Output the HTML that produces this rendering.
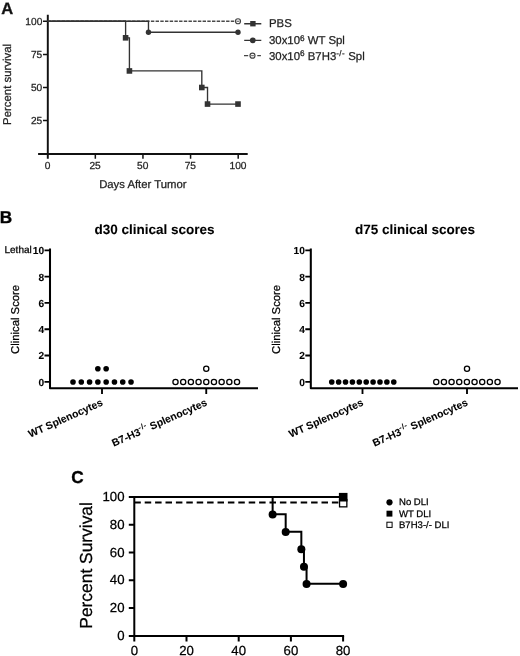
<!DOCTYPE html>
<html><head><meta charset="utf-8"><title>Figure</title>
<style>html,body{margin:0;padding:0;background:#fff}svg{display:block}text{font-family:"Liberation Sans",Arial,Helvetica,sans-serif;text-rendering:geometricPrecision;stroke-width:.25px}#panelA text{stroke:#222}#panelB text,#panelC text{stroke:#000}text[font-weight=bold]{stroke-width:.08px}text.pl{stroke-width:.35px}</style></head><body>
<svg width="520" height="656" viewBox="0 0 520 656">
<rect width="520" height="656" fill="#fff"/>
<g id="panelA">
<text class="pl" x="1.3" y="13.8" font-size="16.5" font-weight="bold" fill="#111">A</text>
<path d="M47.8 14.7V158.8M38.1 154H247.7" stroke="#111" stroke-width="1.95" fill="none"/>
<path d="M43 120.62H47.8M43 87.5H47.8M43 54.38H47.8M43 21.25H47.8M95.33 154V158.8M142.95 154V158.8M190.57 154V158.8M238.2 154V158.8" stroke="#111" stroke-width="1.5" fill="none"/>
<text x="42.3" y="124.22" font-size="10.2" text-anchor="end" fill="#222">25</text>
<text x="42.3" y="91.1" font-size="10.2" text-anchor="end" fill="#222">50</text>
<text x="42.3" y="57.98" font-size="10.2" text-anchor="end" fill="#222">75</text>
<text x="42.3" y="24.85" font-size="10.2" text-anchor="end" fill="#222">100</text>
<text x="47.5" y="169.3" font-size="10.2" text-anchor="middle" fill="#222">0</text>
<text x="95.12" y="169.3" font-size="10.2" text-anchor="middle" fill="#222">25</text>
<text x="142.75" y="169.3" font-size="10.2" text-anchor="middle" fill="#222">50</text>
<text x="190.38" y="169.3" font-size="10.2" text-anchor="middle" fill="#222">75</text>
<text x="238" y="169.3" font-size="10.2" text-anchor="middle" fill="#222">100</text>
<text x="142.8" y="187.5" font-size="11.3" text-anchor="middle" fill="#222">Days After Tumor</text>
<text transform="translate(10.9,84.4) rotate(-90)" font-size="11.4" text-anchor="middle" fill="#222">Percent survival</text>
<path d="M47.5 21.25H235.5" stroke="#4a4a4a" stroke-width="1.3" stroke-dasharray="3.4 1.3" fill="none"/>
<circle cx="238" cy="21.25" r="2.5" fill="#fff" stroke="#444" stroke-width="1.2"/>
<path d="M236.6 21.25h2.8" stroke="#444" stroke-width="0.9"/>
<path d="M47.5 21.25H148.47V32.25H238" stroke="#333" stroke-width="1.35" fill="none"/>
<circle cx="148.47" cy="32.25" r="2.7" fill="#333"/>
<circle cx="238" cy="32.25" r="2.7" fill="#333"/>
<path d="M47.5 21.25H125.61V37.81H129.42V70.94H201.81V87.5H207.52V104.06H238" stroke="#333" stroke-width="1.35" fill="none"/>
<rect x="122.81" y="35.01" width="5.6" height="5.6" fill="#333"/>
<rect x="126.62" y="68.14" width="5.6" height="5.6" fill="#333"/>
<rect x="199" y="84.7" width="5.6" height="5.6" fill="#333"/>
<rect x="204.72" y="101.26" width="5.6" height="5.6" fill="#333"/>
<rect x="235.2" y="101.26" width="5.6" height="5.6" fill="#333"/>
<path d="M244.2 23.7H261.3M244.2 40.3H261.3" stroke="#333" stroke-width="1.35"/>
<rect x="250.2" y="21" width="5.4" height="5.4" fill="#333"/>
<circle cx="252.8" cy="40.3" r="2.9" fill="#333"/>
<path d="M244 55.7H248.2M257.3 55.7H260.9" stroke="#444" stroke-width="1.3"/>
<circle cx="252.5" cy="55.7" r="2.5" fill="#fff" stroke="#444" stroke-width="1.2"/>
<path d="M251.1 55.7h2.8" stroke="#444" stroke-width="0.9"/>
<text x="269" y="26.8" font-size="11.4" fill="#222">PBS</text>
<text x="269" y="44.4" font-size="11.4" fill="#222">30x10<tspan font-size="8.2" dy="-3.8">6</tspan><tspan dy="3.8"> WT Spl</tspan></text>
<text x="269" y="60.2" font-size="11.4" fill="#222">30x10<tspan font-size="8.2" dy="-3.8">6</tspan><tspan dy="3.8"> B7H3</tspan><tspan font-size="8" dy="-4.2" letter-spacing="0.4">-/-</tspan><tspan dy="4.2"> Spl</tspan></text>
</g>
<g id="panelB">
<text class="pl" x="-0.2" y="223.4" font-size="17.2" font-weight="bold" fill="#000">B</text>
<path d="M50 248.6V388.2H258" stroke="#000" stroke-width="2.05" fill="none" stroke-linejoin="round"/>
<path d="M44.5 381.8H50M44.5 355.5H50M44.5 329.2H50M44.5 302.9H50M44.5 276.6H50M44.5 250.3H50M102 388.2V394M206.25 388.2V394" stroke="#000" stroke-width="1.85" fill="none"/>
<text x="44.1" y="385.7" font-size="10.2" font-weight="bold" text-anchor="end">0</text>
<text x="44.1" y="359.4" font-size="10.2" font-weight="bold" text-anchor="end">2</text>
<text x="44.1" y="333.1" font-size="10.2" font-weight="bold" text-anchor="end">4</text>
<text x="44.1" y="306.8" font-size="10.2" font-weight="bold" text-anchor="end">6</text>
<text x="44.1" y="280.5" font-size="10.2" font-weight="bold" text-anchor="end">8</text>
<text x="44.1" y="254.2" font-size="10.2" font-weight="bold" text-anchor="end">10</text>
<text x="4.5" y="253.4" font-size="10">Lethal</text>
<text transform="translate(19,319.4) rotate(-90)" font-size="11.3" text-anchor="middle">Clinical Score</text>
<text x="154.5" y="233.7" font-size="13.5" font-weight="bold" text-anchor="middle">d30 clinical scores</text>
<circle cx="73" cy="381.95" r="2.8"/>
<circle cx="81.29" cy="381.95" r="2.8"/>
<circle cx="89.58" cy="381.95" r="2.8"/>
<circle cx="97.87" cy="381.95" r="2.8"/>
<circle cx="106.16" cy="381.95" r="2.8"/>
<circle cx="114.45" cy="381.95" r="2.8"/>
<circle cx="122.74" cy="381.95" r="2.8"/>
<circle cx="131.03" cy="381.95" r="2.8"/>
<circle cx="97.85" cy="368.8" r="2.8"/>
<circle cx="106.15" cy="368.8" r="2.8"/>
<circle cx="175.5" cy="381.95" r="2.6" fill="#fff" stroke="#000" stroke-width="1.3"/>
<circle cx="183.19" cy="381.95" r="2.6" fill="#fff" stroke="#000" stroke-width="1.3"/>
<circle cx="190.88" cy="381.95" r="2.6" fill="#fff" stroke="#000" stroke-width="1.3"/>
<circle cx="198.57" cy="381.95" r="2.6" fill="#fff" stroke="#000" stroke-width="1.3"/>
<circle cx="206.26" cy="381.95" r="2.6" fill="#fff" stroke="#000" stroke-width="1.3"/>
<circle cx="213.95" cy="381.95" r="2.6" fill="#fff" stroke="#000" stroke-width="1.3"/>
<circle cx="221.64" cy="381.95" r="2.6" fill="#fff" stroke="#000" stroke-width="1.3"/>
<circle cx="229.33" cy="381.95" r="2.6" fill="#fff" stroke="#000" stroke-width="1.3"/>
<circle cx="237.02" cy="381.95" r="2.6" fill="#fff" stroke="#000" stroke-width="1.3"/>
<circle cx="206.25" cy="368.8" r="2.6" fill="#fff" stroke="#000" stroke-width="1.3"/>
<text transform="translate(103.5,405) rotate(-24)" font-size="10.4" font-weight="bold" text-anchor="end">WT Splenocytes</text>
<text transform="translate(207.75,405) rotate(-24)" font-size="10.4" font-weight="bold" text-anchor="end">B7-H3<tspan font-size="7.5" dy="-4.5" letter-spacing="0.55">-/-</tspan><tspan dy="4.5"> Splenocytes</tspan></text>
<path d="M310.8 248.6V388.2H518" stroke="#000" stroke-width="2.05" fill="none" stroke-linejoin="round"/>
<path d="M305.3 381.8H310.8M305.3 355.5H310.8M305.3 329.2H310.8M305.3 302.9H310.8M305.3 276.6H310.8M305.3 250.3H310.8M362.5 388.2V394M467 388.2V394" stroke="#000" stroke-width="1.85" fill="none"/>
<text x="304.9" y="385.7" font-size="10.2" font-weight="bold" text-anchor="end">0</text>
<text x="304.9" y="359.4" font-size="10.2" font-weight="bold" text-anchor="end">2</text>
<text x="304.9" y="333.1" font-size="10.2" font-weight="bold" text-anchor="end">4</text>
<text x="304.9" y="306.8" font-size="10.2" font-weight="bold" text-anchor="end">6</text>
<text x="304.9" y="280.5" font-size="10.2" font-weight="bold" text-anchor="end">8</text>
<text x="304.9" y="254.2" font-size="10.2" font-weight="bold" text-anchor="end">10</text>
<text transform="translate(279.8,319.4) rotate(-90)" font-size="11.3" text-anchor="middle">Clinical Score</text>
<text x="415" y="233.7" font-size="13.5" font-weight="bold" text-anchor="middle">d75 clinical scores</text>
<circle cx="331.75" cy="381.95" r="2.8"/>
<circle cx="338.64" cy="381.95" r="2.8"/>
<circle cx="345.53" cy="381.95" r="2.8"/>
<circle cx="352.42" cy="381.95" r="2.8"/>
<circle cx="359.31" cy="381.95" r="2.8"/>
<circle cx="366.2" cy="381.95" r="2.8"/>
<circle cx="373.09" cy="381.95" r="2.8"/>
<circle cx="379.98" cy="381.95" r="2.8"/>
<circle cx="386.87" cy="381.95" r="2.8"/>
<circle cx="393.76" cy="381.95" r="2.8"/>
<circle cx="436.25" cy="381.95" r="2.6" fill="#fff" stroke="#000" stroke-width="1.3"/>
<circle cx="443.91" cy="381.95" r="2.6" fill="#fff" stroke="#000" stroke-width="1.3"/>
<circle cx="451.57" cy="381.95" r="2.6" fill="#fff" stroke="#000" stroke-width="1.3"/>
<circle cx="459.23" cy="381.95" r="2.6" fill="#fff" stroke="#000" stroke-width="1.3"/>
<circle cx="466.89" cy="381.95" r="2.6" fill="#fff" stroke="#000" stroke-width="1.3"/>
<circle cx="474.55" cy="381.95" r="2.6" fill="#fff" stroke="#000" stroke-width="1.3"/>
<circle cx="482.21" cy="381.95" r="2.6" fill="#fff" stroke="#000" stroke-width="1.3"/>
<circle cx="489.87" cy="381.95" r="2.6" fill="#fff" stroke="#000" stroke-width="1.3"/>
<circle cx="497.53" cy="381.95" r="2.6" fill="#fff" stroke="#000" stroke-width="1.3"/>
<circle cx="467" cy="368.8" r="2.6" fill="#fff" stroke="#000" stroke-width="1.3"/>
<text transform="translate(364,405) rotate(-24)" font-size="10.4" font-weight="bold" text-anchor="end">WT Splenocytes</text>
<text transform="translate(468.5,405) rotate(-24)" font-size="10.4" font-weight="bold" text-anchor="end">B7-H3<tspan font-size="7.5" dy="-4.5" letter-spacing="0.55">-/-</tspan><tspan dy="4.5"> Splenocytes</tspan></text>
</g>
<g id="panelC">
<text class="pl" x="71.3" y="482.7" font-size="17.2" font-weight="bold">C</text>
<path d="M134.3 495.9V635.9H344.1" stroke="#000" stroke-width="2" fill="none"/>
<path d="M128.8 635.9H134.3M128.8 608.1H134.3M128.8 580.3H134.3M128.8 552.5H134.3M128.8 524.7H134.3M128.8 496.9H134.3M134.3 635.9V641.4M186.5 635.9V641.4M238.7 635.9V641.4M290.9 635.9V641.4M343.1 635.9V641.4" stroke="#000" stroke-width="2" fill="none"/>
<text x="124.5" y="640" font-size="13.2" text-anchor="end">0</text>
<text x="124.5" y="612.2" font-size="13.2" text-anchor="end">20</text>
<text x="124.5" y="584.4" font-size="13.2" text-anchor="end">40</text>
<text x="124.5" y="556.6" font-size="13.2" text-anchor="end">60</text>
<text x="124.5" y="528.8" font-size="13.2" text-anchor="end">80</text>
<text x="124.5" y="501" font-size="13.2" text-anchor="end">100</text>
<text x="134.3" y="655.2" font-size="13.2" text-anchor="middle">0</text>
<text x="186.5" y="655.2" font-size="13.2" text-anchor="middle">20</text>
<text x="238.7" y="655.2" font-size="13.2" text-anchor="middle">40</text>
<text x="290.9" y="655.2" font-size="13.2" text-anchor="middle">60</text>
<text x="343.1" y="655.2" font-size="13.2" text-anchor="middle">80</text>
<text transform="translate(91.7,565.4) rotate(-90)" font-size="17.4" text-anchor="middle">Percent Survival</text>
<path d="M134.3 496.9H343.1" stroke="#000" stroke-width="2" fill="none"/>
<path d="M134.3 502.46H343.1" stroke="#000" stroke-width="2" stroke-dasharray="6.5 3.9" fill="none"/>
<path d="M272.63 496.9V514.27H285.68V531.65H301.34V549.02H303.95V566.4H306.56V583.77H343.1" stroke="#000" stroke-width="2" fill="none"/>
<circle cx="272.63" cy="514.57" r="4"/>
<circle cx="285.68" cy="531.95" r="4"/>
<circle cx="301.34" cy="549.32" r="4"/>
<circle cx="303.95" cy="566.7" r="4"/>
<circle cx="306.56" cy="584.07" r="4"/>
<circle cx="343.1" cy="584.07" r="4"/>
<rect x="339.55" y="499.55" width="7.3" height="7.3" fill="#fff" stroke="#000" stroke-width="1.3"/>
<rect x="338.9" y="492.9" width="8.6" height="8.6"/>
<circle cx="389.5" cy="502.3" r="3.1"/>
<rect x="386.5" y="510.7" width="5.9" height="5.9"/>
<rect x="386.9" y="522.2" width="5.2" height="5.2" fill="#fff" stroke="#000" stroke-width="1"/>
<text x="399" y="505" font-size="9.55">No DLI</text>
<text x="399" y="516.5" font-size="9.55">WT DLI</text>
<text x="399" y="528" font-size="9.55">B7H3-/- DLI</text>
</g>
</svg></body></html>
